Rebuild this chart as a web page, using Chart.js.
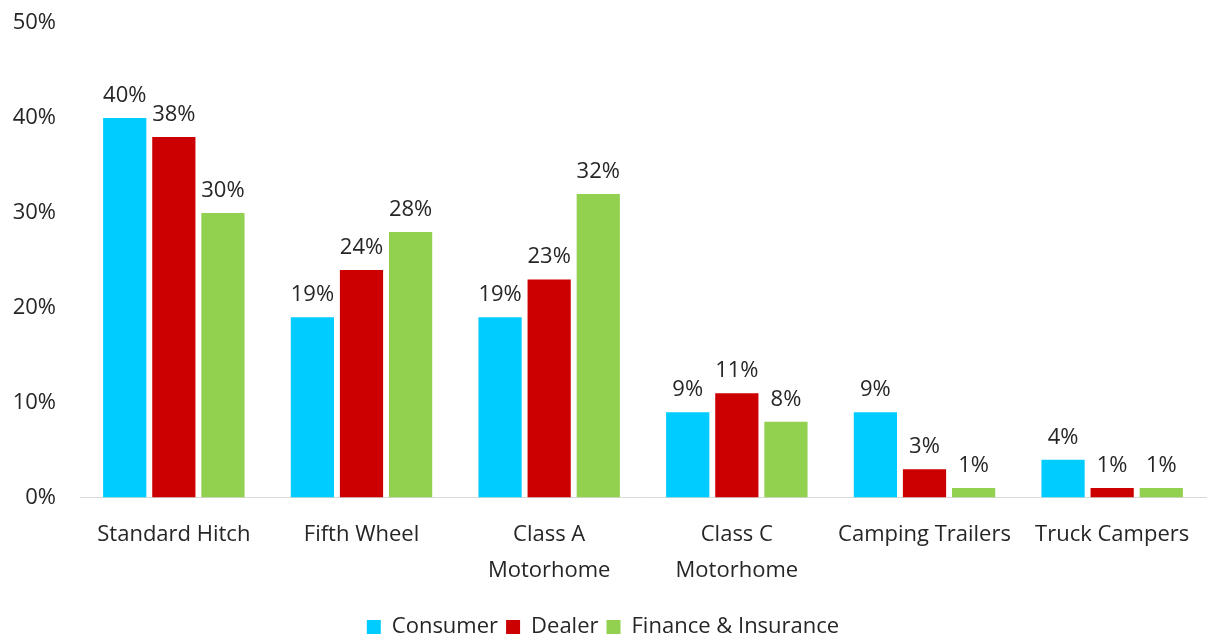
<!DOCTYPE html>
<html>
<head>
<meta charset="utf-8">
<script src="https://cdn.jsdelivr.net/npm/chart.js@4"></script>
<style>
  html, body { margin: 0; padding: 0; background: #fff; overflow: hidden; }
  #wrap { width: 1212px; height: 651px; margin-top: -14px; }
</style>
</head>
<body>
<div id="wrap"><canvas id="rvChart"></canvas></div>
<script>
const categories = [
  'Standard Hitch',
  'Fifth Wheel',
  ['Class A', 'Motorhome'],
  ['Class C', 'Motorhome'],
  'Camping Trailers',
  'Truck Campers'
];
const consumer = [40, 19, 19, 9, 9, 4];
const dealer = [38, 24, 23, 11, 3, 1];
const financeInsurance = [30, 28, 32, 8, 1, 1];
const yTicks = [0, 10, 20, 30, 40, 50];

const FONT = '"Open Sans", sans-serif';
const TEXT = '#262626';

// draws value labels above each bar
const barLabels = {
  id: 'barLabels',
  afterDatasetsDraw(chart) {
    const ctx = chart.ctx;
    ctx.save();
    ctx.font = '22px ' + FONT;
    ctx.fillStyle = TEXT;
    ctx.textAlign = 'center';
    ctx.textBaseline = 'alphabetic';
    chart.data.datasets.forEach((ds, i) => {
      chart.getDatasetMeta(i).data.forEach((bar, j) => {
        ctx.fillText(ds.data[j] + '%', bar.x, bar.y - 16);
      });
    });
    ctx.restore();
  }
};

new Chart(document.getElementById('rvChart'), {
  type: 'bar',
  data: {
    labels: categories,
    datasets: [
      { label: 'Consumer', data: consumer, backgroundColor: '#00CCFF' },
      { label: 'Dealer', data: dealer, backgroundColor: '#CC0000' },
      { label: 'Finance & Insurance', data: financeInsurance, backgroundColor: '#92D050' }
    ]
  },
  options: {
    responsive: true,
    maintainAspectRatio: false,
    animation: false,
    layout: { padding: { top: 0, right: 6, left: 0, bottom: -11 } },
    datasets: {
      bar: { categoryPercentage: 0.785, barPercentage: 0.88 }
    },
    plugins: {
      tooltip: { enabled: false },
      legend: {
        position: 'bottom',
        labels: {
          boxWidth: 14,
          boxHeight: 14,
          padding: 8,
          color: TEXT,
          font: { family: FONT, size: 22 }
        }
      }
    },
    scales: {
      x: {
        grid: { display: false, drawTicks: false },
        border: { color: '#d9d9d9', width: 1 },
        ticks: {
          color: TEXT,
          padding: 20,
          maxRotation: 0,
          autoSkip: false,
          font: { family: FONT, size: 22, lineHeight: 1.6 }
        }
      },
      y: {
        min: 0,
        max: 50,
        afterBuildTicks(axis) {
          axis.ticks = yTicks.map(v => ({ value: v }));
        },
        afterFit(axis) {
          axis.width = 80;
        },
        grid: { display: false, drawTicks: false },
        border: { display: false },
        ticks: {
          color: TEXT,
          padding: 24,
          font: { family: FONT, size: 22 },
          callback: v => v + '%'
        }
      }
    }
  },
  plugins: [barLabels]
});
</script>
</body>
</html>
